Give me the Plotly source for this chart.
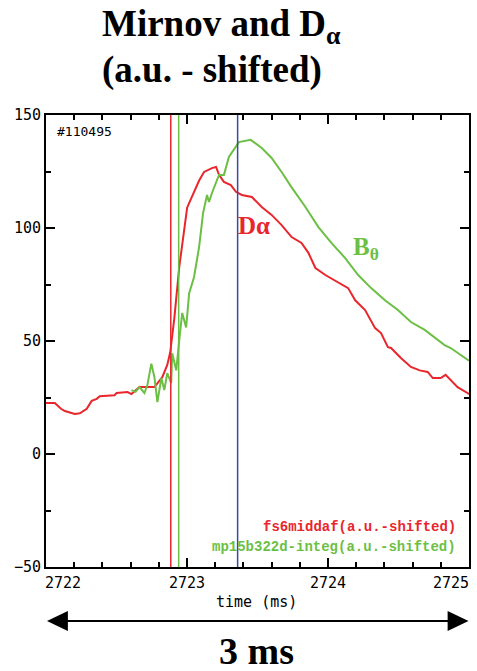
import plotly.graph_objects as go

# ---------------- data ----------------
dalpha_t = [2722.000, 2722.063, 2722.106, 2722.134, 2722.204, 2722.240, 2722.289, 2722.324,
            2722.360, 2722.381, 2722.486, 2722.501, 2722.578, 2722.606, 2722.663, 2722.769,
            2722.825, 2722.860, 2722.881, 2722.910, 2722.945, 2722.966, 2723.001, 2723.036,
            2723.086, 2723.121, 2723.177, 2723.206, 2723.227, 2723.262, 2723.311, 2723.347,
            2723.389, 2723.460, 2723.530, 2723.600, 2723.671, 2723.742, 2723.812, 2723.861,
            2723.911, 2723.981, 2724.073, 2724.143, 2724.193, 2724.263, 2724.334, 2724.376,
            2724.425, 2724.447, 2724.517, 2724.588, 2724.651, 2724.707, 2724.743, 2724.799,
            2724.834, 2724.870, 2724.919, 2724.989, 2725.000]
dalpha_v = [22.6, 22.6, 20.0, 19.0, 17.7, 18.0, 20.0, 23.5,
            24.4, 25.6, 26.0, 27.0, 27.4, 26.5, 29.6, 29.6,
            34.0, 39.4, 45.0, 60.0, 82.7, 93.0, 109.0, 114.0,
            121.0, 124.8, 126.5, 127.0, 123.5, 120.4, 119.0, 116.0,
            114.6, 113.7, 109.3, 105.8, 101.3, 96.0, 93.4, 89.0,
            82.3, 79.2, 76.0, 73.4, 68.0, 63.7, 55.7, 53.5,
            47.3, 46.9, 42.5, 38.5, 37.0, 36.3, 33.6, 33.6,
            35.0, 32.7, 29.6, 27.0, 26.5]

btheta_t = [2722.606, 2722.635, 2722.663, 2722.698, 2722.719, 2722.747, 2722.769, 2722.790,
            2722.818, 2722.839, 2722.860, 2722.888, 2722.895, 2722.924, 2722.945, 2722.966,
            2722.994, 2723.015, 2723.050, 2723.086, 2723.114, 2723.142, 2723.156, 2723.177,
            2723.227, 2723.262, 2723.297, 2723.347, 2723.368, 2723.452, 2723.530, 2723.600,
            2723.671, 2723.742, 2723.840, 2723.932, 2724.024, 2724.122, 2724.214, 2724.306,
            2724.404, 2724.496, 2724.588, 2724.686, 2724.778, 2724.827, 2724.870, 2724.919,
            2724.989, 2725.000]
btheta_v = [28.3, 27.5, 29.6, 27.0, 30.5, 40.0, 34.0, 23.0,
            33.6, 28.3, 35.8, 31.4, 44.6, 37.0, 50.4, 62.4,
            56.0, 71.0, 78.3, 91.6, 106.6, 114.6, 111.5, 115.5,
            123.5, 123.5, 131.4, 135.8, 138.0, 139.0, 135.4, 131.0,
            124.8, 118.0, 109.3, 100.4, 93.4, 86.7, 79.2, 73.4,
            68.0, 63.7, 58.4, 54.9, 50.4, 48.2, 46.9, 44.7,
            41.6, 41.3]

marker_times = [2722.885, 2722.941, 2723.359]
x_ticks = [2722, 2723, 2724, 2725]
y_ticks = [-50, 0, 50, 100, 150]

RED = "#e8262c"
GREEN = "#6cbf45"
BLUE = "#3b4a9e"

# ---------------- layout geometry ----------------
W, H = 477, 671
L, R, T, B = 46, 471.5, 115, 567


def px(xp):
    return (xp - L) / (R - L)


def py(yp):
    return (B - yp) / (B - T)


fig = go.Figure()
fig.add_trace(go.Scatter(x=dalpha_t, y=dalpha_v, mode="lines",
                         line=dict(color=RED, width=2), name="fs6middaf", showlegend=False))
fig.add_trace(go.Scatter(x=btheta_t, y=btheta_v, mode="lines",
                         line=dict(color=GREEN, width=2), name="mp15b322d-integ", showlegend=False))

shapes = []
for t, c in zip(marker_times, [RED, GREEN, BLUE]):
    shapes.append(dict(type="line", xref="x", yref="paper", x0=t, x1=t, y0=0, y1=1,
                       line=dict(color=c, width=1.5), layer="above"))

# double arrow below the axis
ay = py(621)
shapes.append(dict(type="line", xref="paper", yref="paper", x0=px(60), x1=px(458), y0=ay, y1=ay,
                   line=dict(color="black", width=2)))
hh = 10 / (B - T)
shapes.append(dict(type="path", xref="paper", yref="paper",
                   path=f"M {px(47)},{ay} L {px(68)},{ay + hh} L {px(68)},{ay - hh} Z",
                   fillcolor="black", line=dict(color="black", width=0)))
shapes.append(dict(type="path", xref="paper", yref="paper",
                   path=f"M {px(471)},{ay} L {px(450)},{ay + hh} L {px(450)},{ay - hh} Z",
                   fillcolor="black", line=dict(color="black", width=0)))

MONO = "DejaVu Sans Mono, monospace"
SERIF = "Liberation Serif, Times New Roman, serif"
BMONO = "Liberation Mono, Courier New, monospace"

ann = []
# title lines
ann.append(dict(text="<b>Mirnov and D<sub>α</sub></b>", xref="paper", yref="paper",
                x=px(100), y=py(26), xanchor="left", yanchor="middle", showarrow=False,
                font=dict(family=SERIF, size=37, color="black")))
ann.append(dict(text="<b>(a.u. - shifted)</b>", xref="paper", yref="paper",
                x=px(100), y=py(70), xanchor="left", yanchor="middle", showarrow=False,
                font=dict(family=SERIF, size=37, color="black")))
# x tick labels
for v in x_ticks:
    xa = "center"
    xs = 0
    if v == x_ticks[0]:
        xa, xs = "left", -3
    elif v == x_ticks[-1]:
        xa, xs = "right", 2
    ann.append(dict(text=str(v), xref="x", yref="paper", x=v, y=py(583), xanchor=xa,
                    yanchor="middle", xshift=xs, showarrow=False,
                    font=dict(family=MONO, size=15, color="black")))
ann.append(dict(text="time (ms)", xref="paper", yref="paper", x=px(258), y=py(602),
                xanchor="center", yanchor="middle", showarrow=False,
                font=dict(family=MONO, size=15, color="black")))
ann.append(dict(text="<b>3 ms</b>", xref="paper", yref="paper", x=px(258), y=py(651),
                xanchor="center", yanchor="middle", showarrow=False,
                font=dict(family=SERIF, size=38, color="black")))
ann.append(dict(text="#110495", xref="paper", yref="paper", x=px(55), y=py(131),
                xanchor="left", yanchor="middle", showarrow=False,
                font=dict(family=MONO, size=13, color="black")))
ann.append(dict(text="<b>Dα</b>", xref="x", yref="y", x=2723.475, y=101.3,
                xanchor="center", yanchor="middle", showarrow=False,
                font=dict(family=SERIF, size=25, color=RED)))
ann.append(dict(text="<b>B<sub>θ</sub></b>", xref="x", yref="y", x=2724.27, y=91.0,
                xanchor="center", yanchor="middle", showarrow=False,
                font=dict(family=SERIF, size=25, color=GREEN)))
ann.append(dict(text="<b>fs6middaf(a.u.-shifted)</b>", xref="paper", yref="paper",
                x=px(460), y=py(527), xanchor="right", yanchor="middle", showarrow=False,
                font=dict(family=BMONO, size=14, color=RED)))
ann.append(dict(text="<b>mp15b322d-integ(a.u.-shifted)</b>", xref="paper", yref="paper",
                x=px(460), y=py(547), xanchor="right", yanchor="middle", showarrow=False,
                font=dict(family=BMONO, size=14, color=GREEN)))

fig.update_layout(
    width=W, height=H, autosize=False,
    margin=dict(l=L, r=W - R, t=T, b=H - B, pad=0),
    paper_bgcolor="white", plot_bgcolor="white",
    shapes=shapes, annotations=ann, showlegend=False,
    xaxis=dict(range=[2722, 2725], showgrid=False, zeroline=False, showline=True,
               linecolor="black", linewidth=2, mirror="ticks", ticks="inside",
               ticklen=9, tickwidth=1.5, tickcolor="black", dtick=1, tick0=2722,
               showticklabels=False,
               minor=dict(ticks="inside", ticklen=5, tickwidth=1.5, tickcolor="black",
                          dtick=0.2, showgrid=False)),
    yaxis=dict(range=[-50, 150], showgrid=False, zeroline=False, showline=True,
               linecolor="black", linewidth=2, mirror="ticks", ticks="inside",
               ticklen=9, tickwidth=1.5, tickcolor="black", tickvals=y_ticks,
               tickfont=dict(family=MONO, size=15, color="black"),
               minor=dict(ticks="inside", ticklen=5, tickwidth=1.5, tickcolor="black",
                          dtick=25, showgrid=False)),
)

fig.write_html("out.html")
